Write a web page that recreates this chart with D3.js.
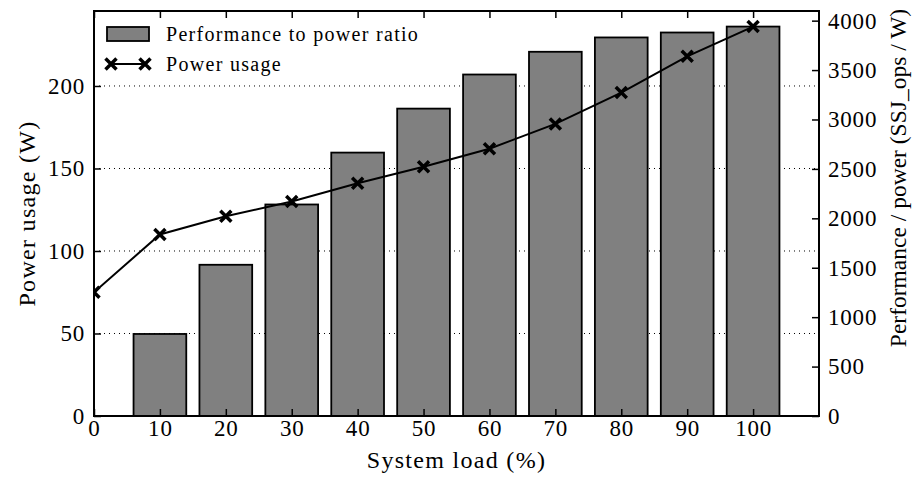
<!DOCTYPE html>
<html>
<head>
<meta charset="utf-8">
<script src="https://d3js.org/d3.v7.min.js"></script>
<style>
  body { margin: 0; background: #fff; }
  text { font-family: "Liberation Serif", "DejaVu Serif", serif; fill: #000; }
</style>
</head>
<body>
<script>
// data
var loads = [0, 10, 20, 30, 40, 50, 60, 70, 80, 90, 100];
var perfRatio = [0, 830, 1530, 2140, 2665, 3110, 3455, 3685, 3830, 3880, 3940];
var powerUsage = [75, 110, 121, 130, 141, 151, 162, 177, 196, 218, 236];
var leftTicks = [0, 50, 100, 150, 200];
var rightTicks = [0, 500, 1000, 1500, 2000, 2500, 3000, 3500, 4000];
var xTicks = [0, 10, 20, 30, 40, 50, 60, 70, 80, 90, 100];

var w = 917, h = 477;
var m = {left: 94, right: 98, top: 11, bottom: 61};

var svg = d3.select("body").append("svg")
  .attr("width", w).attr("height", h);

var x = d3.scaleLinear().domain([0, 110]).range([m.left, w - m.right]);
var yL = d3.scaleLinear().domain([0, d3.max(powerUsage) * 1.04]).range([h - m.bottom, m.top]);
var yR = d3.scaleLinear().domain([0, d3.max(perfRatio) * 1.04]).range([h - m.bottom, m.top]);

svg.append("clipPath").attr("id", "clip")
  .append("rect")
  .attr("x", m.left).attr("y", m.top)
  .attr("width", w - m.left - m.right).attr("height", h - m.top - m.bottom);

// dotted grid on left ticks
svg.append("g").selectAll("line")
  .data(leftTicks.slice(1))
  .enter().append("line")
  .attr("x1", m.left).attr("x2", w - m.right)
  .attr("y1", d => yL(d)).attr("y2", d => yL(d))
  .attr("stroke", "#000").attr("stroke-width", 1)
  .attr("stroke-dasharray", "1,4");

// bars
svg.append("g").selectAll("rect")
  .data(loads.map((d, i) => ({load: d, v: perfRatio[i]})).filter(d => d.v > 0))
  .enter().append("rect")
  .attr("x", d => x(d.load - 4))
  .attr("width", d => x(d.load + 4) - x(d.load - 4))
  .attr("y", d => yR(d.v))
  .attr("height", d => yR(0) - yR(d.v))
  .attr("fill", "#808080")
  .attr("stroke", "#000").attr("stroke-width", 1.8);

// power line
var pts = loads.map((d, i) => [x(d), yL(powerUsage[i])]);
var lineG = svg.append("g").attr("clip-path", "url(#clip)");
lineG.append("path")
  .attr("d", d3.line()(pts))
  .attr("fill", "none").attr("stroke", "#000").attr("stroke-width", 2);

function cross(g, cx, cy, s) {
  g.append("path")
    .attr("d", "M" + (cx - s) + "," + (cy - s) + "L" + (cx + s) + "," + (cy + s) +
               "M" + (cx - s) + "," + (cy + s) + "L" + (cx + s) + "," + (cy - s))
    .attr("stroke", "#000").attr("stroke-width", 3.5).attr("fill", "none");
}
pts.forEach(p => cross(lineG, p[0], p[1], 5.5));

// frame
svg.append("rect")
  .attr("x", m.left).attr("y", m.top)
  .attr("width", w - m.left - m.right).attr("height", h - m.top - m.bottom)
  .attr("fill", "none").attr("stroke", "#000").attr("stroke-width", 2);

// axes with inward ticks
var fs = 23;
var bottomAx = svg.append("g")
  .attr("transform", "translate(0," + (h - m.bottom) + ")")
  .call(d3.axisBottom(x).tickValues(xTicks).tickSizeInner(-7).tickSizeOuter(0).tickPadding(4));
var topAx = svg.append("g")
  .attr("transform", "translate(0," + m.top + ")")
  .call(d3.axisTop(x).tickValues(xTicks).tickSizeInner(-7).tickSizeOuter(0).tickFormat(""));
var leftAx = svg.append("g")
  .attr("transform", "translate(" + m.left + ",0)")
  .call(d3.axisLeft(yL).tickValues(leftTicks).tickSizeInner(-7).tickSizeOuter(0).tickPadding(9));
var rightAx = svg.append("g")
  .attr("transform", "translate(" + (w - m.right) + ",0)")
  .call(d3.axisRight(yR).tickValues(rightTicks).tickSizeInner(-7).tickSizeOuter(0).tickPadding(9)
    .tickFormat(d3.format("d")));

[bottomAx, topAx, leftAx, rightAx].forEach(function (g) {
  g.attr("font-family", null);
  g.select(".domain").remove();
  g.selectAll("line").attr("stroke", "#000").attr("stroke-width", 1.5);
  g.selectAll("text").attr("font-size", fs).attr("letter-spacing", 0.8).attr("fill", "#000");
});

// axis labels
svg.append("text")
  .attr("x", (m.left + w - m.right) / 2).attr("y", 468)
  .attr("text-anchor", "middle").attr("font-size", 24).attr("letter-spacing", 1.3)
  .text("System load (%)");
svg.append("text")
  .attr("transform", "translate(27," + (m.top + h - m.bottom) / 2 + ") rotate(-90)")
  .attr("text-anchor", "middle").attr("dominant-baseline", "central")
  .attr("font-size", 24).attr("letter-spacing", 1.3)
  .text("Power usage (W)");
svg.append("text")
  .attr("transform", "translate(898,178) rotate(-90)")
  .attr("text-anchor", "middle").attr("dominant-baseline", "central")
  .attr("font-size", 23.5)
  .text("Performance / power (SSJ_ops / W)");

// legend
var leg = svg.append("g");
leg.append("rect")
  .attr("x", 107).attr("y", 27).attr("width", 42).attr("height", 14)
  .attr("fill", "#808080").attr("stroke", "#000").attr("stroke-width", 1.8);
leg.append("text").attr("x", 166).attr("y", 41)
  .attr("font-size", 20).attr("letter-spacing", 1.3)
  .text("Performance to power ratio");
leg.append("line")
  .attr("x1", 111).attr("x2", 145).attr("y1", 64).attr("y2", 64)
  .attr("stroke", "#000").attr("stroke-width", 2);
cross(leg, 111, 64, 5.5);
cross(leg, 145, 64, 5.5);
leg.append("text").attr("x", 166).attr("y", 71)
  .attr("font-size", 20).attr("letter-spacing", 1.3)
  .text("Power usage");
</script>
</body>
</html>
